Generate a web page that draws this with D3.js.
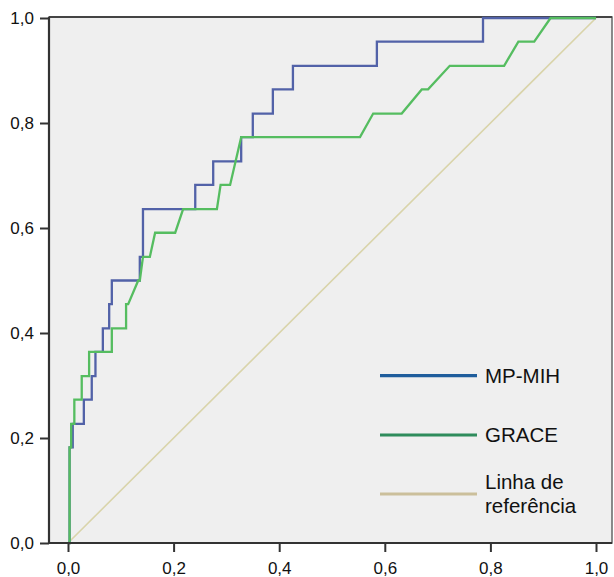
<!DOCTYPE html>
<html>
<head>
<meta charset="utf-8">
<script src="https://cdn.jsdelivr.net/npm/d3@7"></script>
<style>
  body { margin: 0; background: #fff; }
  svg { display: block; }
</style>
</head>
<body>
<div id="chart"></div>
<script>
var width = 614,
    height = 577;

// axis ticks
var ticks = [0, 0.2, 0.4, 0.6, 0.8, 1.0];

// MP-MIH (stepped ROC curve)
var mpFpr = [0, 0.003, 0.009, 0.030, 0.045, 0.052, 0.066, 0.078, 0.083, 0.136, 0.142, 0.241, 0.275, 0.328, 0.350, 0.388, 0.426, 0.585, 0.786, 1.0];
var mpTpr = [0, 0.182, 0.227, 0.273, 0.318, 0.364, 0.409, 0.455, 0.500, 0.545, 0.636, 0.682, 0.727, 0.773, 0.818, 0.864, 0.909, 0.955, 1.0, 1.0];

// GRACE (vertices, ties give slanted segments)
var grFpr = [0, 0.003, 0.003, 0.006, 0.006, 0.012, 0.012, 0.026, 0.026, 0.040, 0.040, 0.083, 0.083, 0.110, 0.110, 0.114, 0.133, 0.136, 0.142, 0.155, 0.165, 0.203, 0.218, 0.282, 0.289, 0.307, 0.328, 0.553, 0.578, 0.632, 0.670, 0.682, 0.723, 0.826, 0.853, 0.883, 0.914, 1.0];
var grTpr = [0, 0, 0.182, 0.182, 0.227, 0.227, 0.273, 0.273, 0.318, 0.318, 0.364, 0.364, 0.409, 0.409, 0.455, 0.455, 0.500, 0.500, 0.545, 0.545, 0.591, 0.591, 0.636, 0.636, 0.682, 0.682, 0.773, 0.773, 0.818, 0.818, 0.864, 0.864, 0.909, 0.909, 0.955, 0.955, 1.0, 1.0];

// reference diagonal
var refX = [0, 1];
var refY = [0, 1];

var legendLabels = [["MP-MIH"], ["GRACE"], ["Linha de", "referência"]];

var svg = d3.select("#chart").append("svg")
    .attr("width", width)
    .attr("height", height);

var x = d3.scaleLinear().domain([0, 1]).range([68, 596]);
var y = d3.scaleLinear().domain([0, 1]).range([543, 18]);

var locale = d3.formatLocale({decimal: ",", thousands: ".", grouping: [3], currency: ["", ""]});
var fmt = locale.format(".1f");

// plot background / frame
svg.append("rect")
    .attr("x", 49)
    .attr("y", 17)
    .attr("width", 612 - 49)
    .attr("height", 543 - 17)
    .attr("fill", "#efefef")
    .attr("stroke", "#666")
    .attr("stroke-width", 1.5);

svg.append("line")
    .attr("x1", 49).attr("x2", 612)
    .attr("y1", 17).attr("y2", 17)
    .attr("stroke", "#444").attr("stroke-width", 2);

// reference line
var line = d3.line()
    .x(function(d){ return x(d[0]); })
    .y(function(d){ return y(d[1]); });

svg.append("path")
    .datum(d3.zip(refX, refY))
    .attr("d", line)
    .attr("fill", "none")
    .attr("stroke", "#d9d4aa")
    .attr("stroke-width", 1.6);

// MP-MIH
svg.append("path")
    .datum(d3.zip(mpFpr, mpTpr))
    .attr("d", line.curve(d3.curveStepAfter))
    .attr("fill", "none")
    .attr("stroke", "#5262a8")
    .attr("stroke-width", 2.3);

// GRACE
svg.append("path")
    .datum(d3.zip(grFpr, grTpr))
    .attr("d", line.curve(d3.curveLinear))
    .attr("fill", "none")
    .attr("stroke", "#55bd60")
    .attr("stroke-width", 2.3);

// axes
var yAxis = svg.append("g")
    .attr("transform", "translate(49,0)")
    .call(d3.axisLeft(y).tickValues(ticks).tickFormat(fmt).tickSize(9).tickPadding(6));

var xAxis = svg.append("g")
    .attr("transform", "translate(0,543)")
    .call(d3.axisBottom(x).tickValues(ticks).tickFormat(fmt).tickSize(9).tickPadding(10));

svg.selectAll(".domain").remove();
svg.selectAll(".tick line").attr("stroke", "#333").attr("stroke-width", 2);
svg.selectAll(".tick text")
    .attr("fill", "#111")
    .attr("font-family", "'Liberation Sans', Arial, sans-serif")
    .attr("font-size", "17px");

svg.append("line")
    .attr("x1", 49).attr("x2", 49)
    .attr("y1", 17).attr("y2", 544)
    .attr("stroke", "#333").attr("stroke-width", 2.2);
svg.append("line")
    .attr("x1", 48).attr("x2", 612)
    .attr("y1", 543).attr("y2", 543)
    .attr("stroke", "#333").attr("stroke-width", 2.2);

// legend
var legendColors = ["#1f5d9c", "#2f8c5c", "#cbbf9b"];
var legendY = [375.7, 435, 494];

var lg = svg.append("g");
legendLabels.forEach(function(lab, i){
  lg.append("line")
    .attr("x1", 380).attr("x2", 477)
    .attr("y1", legendY[i]).attr("y2", legendY[i])
    .attr("stroke", legendColors[i])
    .attr("stroke-width", 3.2);
  var t = lg.append("text")
    .attr("x", 485)
    .attr("y", legendY[i])
    .attr("font-family", "'Liberation Sans', Arial, sans-serif")
    .attr("font-size", "20.5px")
    .attr("fill", "#111");
  lab.forEach(function(s, j){
    t.append("tspan")
      .attr("x", 485)
      .attr("dy", j == 0 ? (0.36 - (lab.length - 1) * 0.58) + "em" : "1.16em")
      .text(s);
  });
});
</script>
</body>
</html>
